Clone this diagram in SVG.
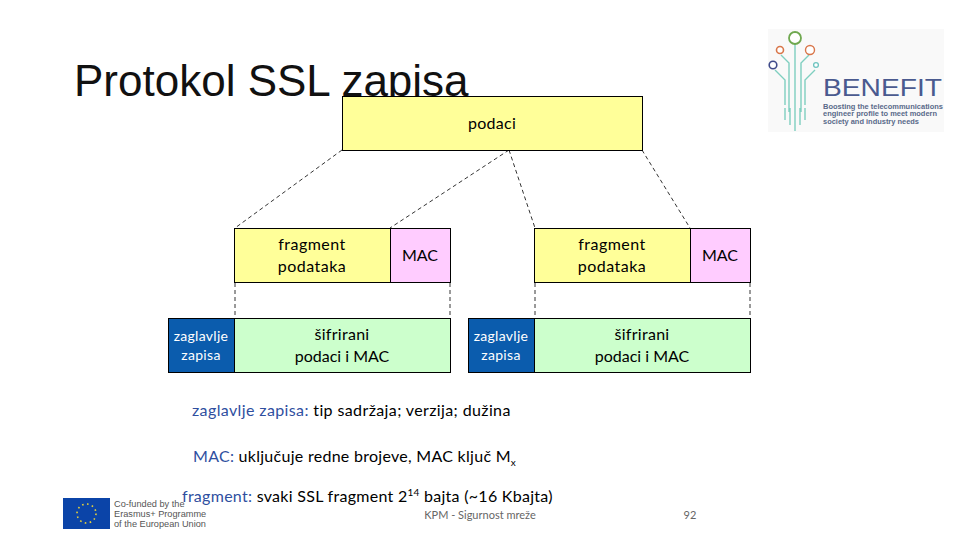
<svg xmlns="http://www.w3.org/2000/svg" width="960" height="540" viewBox="0 0 960 540">
<style>
text{font-family:Lato,"Liberation Sans",sans-serif;font-size:16px;fill:#000}
.c{text-anchor:middle}
.w{fill:#fff;font-size:14px;letter-spacing:.3px}
.b{fill:#2f4f9f}
.box{stroke:#000;stroke-width:1}
.dash{fill:none;stroke:#000;stroke-width:.8;stroke-dasharray:4 3}
.s{letter-spacing:.5px}
.l{letter-spacing:.28px}
.g{font-family:"Liberation Sans",Arial,sans-serif;font-size:9.200px;fill:#555}
.lg{fill:none;stroke:#7fcfc0;stroke-width:1.4}
.lt{font-family:"Liberation Sans",Arial,sans-serif;font-size:6.6px;font-weight:bold;fill:#5a6a8a}
</style>
<rect width="960" height="540" fill="#fff"/>
<text x="74" y="96" style="font-family:'Liberation Sans',Arial,sans-serif;font-size:44px;fill:#111">Protokol SSL zapisa</text>

<g id="logo-benefit">
<rect x="768" y="29" width="176" height="103" fill="#f9f9f9"/>
<path class="lg" d="M795 44V131M789 112V63L781 55M801 112V63L809 55M785 105V80L775 70M805 105V80L815 70M785 108V120M790 108V125M800 108V125M805 108V120"/>
<circle cx="795" cy="38" r="6" fill="#fff" stroke="#6fa84f" stroke-width="1.8"/>
<circle cx="780" cy="50" r="3.500" fill="#fff" stroke="#d9764a" stroke-width="1.600"/>
<circle cx="810" cy="50" r="4.500" fill="#fff" stroke="#d9764a" stroke-width="1.400"/>
<circle cx="773" cy="65" r="3.800" fill="#fff" stroke="#3f4a8a" stroke-width="1.600"/>
<circle cx="816" cy="65" r="2.400" fill="#fff" stroke="#6fc4c0" stroke-width="1.300"/>
<text x="823" y="96" style="font-family:'Liberation Sans',Arial,sans-serif;font-size:24px;fill:#4a5a8f" textLength="119" lengthAdjust="spacingAndGlyphs">BENEFIT</text>
<text class="lt" x="823" y="109" textLength="120" lengthAdjust="spacingAndGlyphs">Boosting the telecommunications</text>
<text class="lt" x="823" y="116" textLength="114" lengthAdjust="spacingAndGlyphs">engineer profile to meet modern</text>
<text class="lt" x="823" y="124" textLength="96" lengthAdjust="spacingAndGlyphs">society and industry needs</text>
</g>

<g id="connectors">
<path class="dash" d="M342 150L235 228M509 150L390 228M509 150L535 228M642 150L690 228"/>
<path class="dash" d="M235 283V318M450 283V318M535 283V318M750 283V318"/>
</g>

<g id="node-podaci">
<rect class="box" x="342.500" y="96.500" width="300" height="54" fill="#ffff99"/>
<text class="c l" x="492" y="129">podaci</text>
</g>
<g id="node-fragment-1">
<rect class="box" x="234.500" y="228.500" width="156" height="54" fill="#ffff99"/>
<text class="c s" x="312" y="250">fragment</text>
<text class="c s" x="312" y="272">podataka</text>
</g>
<g id="node-mac-1">
<rect class="box" x="390.500" y="228.500" width="60" height="54" fill="#ffccff"/>
<text class="c" x="420" y="261">MAC</text>
</g>
<g id="node-zaglavlje-1">
<rect class="box" x="168.500" y="318.500" width="66" height="54" fill="#0b5cad"/>
<text class="c w" x="201" y="341">zaglavlje</text>
<text class="c w" x="201" y="360">zapisa</text>
</g>
<g id="node-sifrirani-1">
<rect class="box" x="234.500" y="318.500" width="216" height="54" fill="#ccffcc"/>
<text class="c l" x="342" y="340">šifrirani</text>
<text class="c" x="342" y="362">podaci i MAC</text>
</g>
<g id="node-fragment-2">
<rect class="box" x="534.500" y="228.500" width="156" height="54" fill="#ffff99"/>
<text class="c s" x="612" y="250">fragment</text>
<text class="c s" x="612" y="272">podataka</text>
</g>
<g id="node-mac-2">
<rect class="box" x="690.500" y="228.500" width="60" height="54" fill="#ffccff"/>
<text class="c" x="720" y="261">MAC</text>
</g>
<g id="node-zaglavlje-2">
<rect class="box" x="468.500" y="318.500" width="66" height="54" fill="#0b5cad"/>
<text class="c w" x="501" y="341">zaglavlje</text>
<text class="c w" x="501" y="360">zapisa</text>
</g>
<g id="node-sifrirani-2">
<rect class="box" x="534.500" y="318.500" width="216" height="54" fill="#ccffcc"/>
<text class="c l" x="642" y="340">šifrirani</text>
<text class="c" x="642" y="362">podaci i MAC</text>
</g>

<text x="192" y="416" style="letter-spacing:.38px"><tspan class="b">zaglavlje zapisa:</tspan> tip sadržaja; verzija; dužina</text>
<text x="193" y="462" class="l"><tspan class="b">MAC:</tspan> uključuje redne brojeve, MAC ključ M<tspan dy="4" font-size="10">x</tspan></text>
<text x="182" y="502" class="l"><tspan class="b">fragment:</tspan> svaki SSL fragment 2<tspan dy="-6" font-size="10">14</tspan><tspan dy="6"> bajta (~16 Kbajta)</tspan></text>

<g id="logo-eu">
<rect x="63" y="498" width="47" height="31" fill="#0b44a8"/>
<circle cx="86.500" cy="513.500" r="9.500" fill="none" stroke="#e8d23a" stroke-width="1.600" stroke-dasharray="1.600 3.400"/>
<text class="g" x="114" y="507">Co-funded by the</text>
<text class="g" x="114" y="517">Erasmus+ Programme</text>
<text class="g" x="114" y="527">of the European Union</text>
</g>

<text x="480" y="519" text-anchor="middle" style="font-size:11px;fill:#666">KPM - Sigurnost mreže</text>
<text x="690" y="519" text-anchor="middle" style="font-size:11px;fill:#666">92</text>
</svg>
